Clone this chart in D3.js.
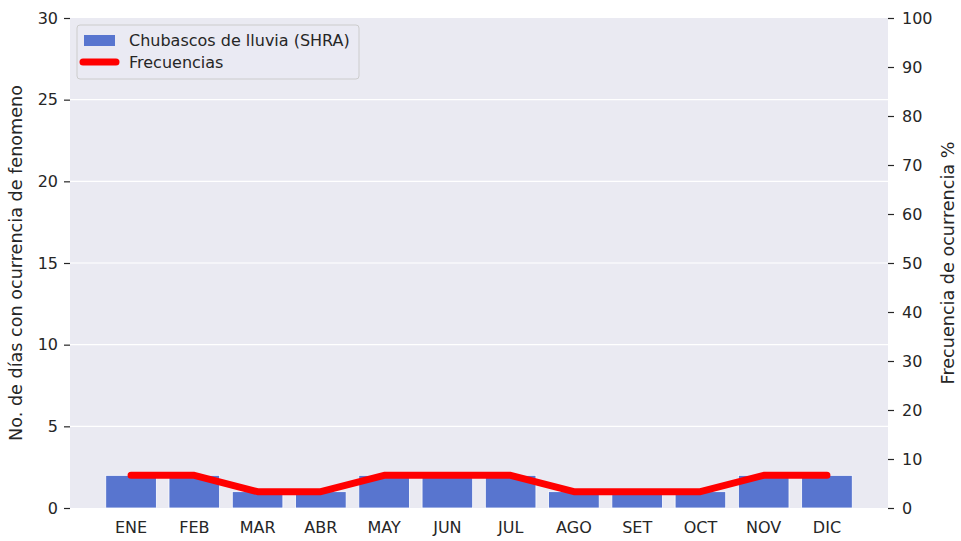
<!DOCTYPE html>
<html>
<head>
<meta charset="utf-8">
<script src="https://cdn.jsdelivr.net/npm/d3@7"></script>
<style>
body { margin: 0; background: #fff; }
text { font-family: "DejaVu Sans", sans-serif; fill: #262626; }
</style>
</head>
<body>
<svg id="chart" width="961" height="541"></svg>
<script>
const months = ['ENE', 'FEB', 'MAR', 'ABR', 'MAY', 'JUN', 'JUL', 'AGO', 'SET', 'OCT', 'NOV', 'DIC'];
const dias = [2, 2, 1, 1, 2, 2, 2, 1, 1, 1, 2, 2];
const frecuencias = [6.67, 6.67, 3.33, 3.33, 6.67, 6.67, 6.67, 3.33, 3.33, 3.33, 6.67, 6.67];
const leftTicks = [0, 5, 10, 15, 20, 25, 30];
const rightTicks = [0, 10, 20, 30, 40, 50, 60, 70, 80, 90, 100];

const margin = {top: 18, right: 73, bottom: 33, left: 70},
  width = 961 - margin.left - margin.right,
  height = 541 - margin.top - margin.bottom;

const svg = d3.select('#chart');
const chart = svg.append('g')
  .attr('transform', `translate(${margin.left}, ${margin.top})`);

const x = d3.scaleBand()
  .domain(months)
  .range([0, width])
  .paddingInner(0.2)
  .paddingOuter(0.565);

const y1 = d3.scaleLinear().domain([0, 30]).range([height, 0]);
const y2 = d3.scaleLinear().domain([0, 100]).range([height, 0]);

chart.append('rect')
  .attr('width', width)
  .attr('height', height)
  .attr('fill', '#eaeaf2');

// grid
chart.selectAll('.grid')
  .data(leftTicks.slice(1, -1))
  .enter().append('line')
  .attr('x1', 0)
  .attr('x2', width)
  .attr('y1', d => y1(d))
  .attr('y2', d => y1(d))
  .attr('stroke', '#fff')
  .attr('stroke-width', 1.2);

// bars
chart.selectAll('.bar')
  .data(dias)
  .enter().append('rect')
  .attr('x', (d, i) => x(months[i]))
  .attr('y', d => y1(d))
  .attr('width', x.bandwidth())
  .attr('height', d => height - y1(d))
  .attr('fill', '#5875cf')
  .attr('stroke', '#fff')
  .attr('stroke-width', 0.8);

// line
const line = d3.line()
  .x((d, i) => x(months[i]) + x.bandwidth() / 2)
  .y(d => y2(d));

chart.append('path')
  .datum(frecuencias)
  .attr('d', line)
  .attr('fill', 'none')
  .attr('stroke', '#ff0000')
  .attr('stroke-width', 7)
  .attr('stroke-linecap', 'round')
  .attr('stroke-linejoin', 'round');

// axes
const styleAxis = g => {
  g.select('.domain').remove();
  g.selectAll('.tick line').attr('stroke', '#262626').attr('stroke-width', 1.2);
  g.selectAll('.tick text').style('font-size', '16px').attr('fill', '#262626');
};

chart.append('g')
  .call(d3.axisLeft(y1).tickValues(leftTicks).tickSize(6).tickPadding(6))
  .call(styleAxis);

chart.append('g')
  .attr('transform', `translate(${width},0)`)
  .call(d3.axisRight(y2).tickValues(rightTicks).tickSize(6).tickPadding(8))
  .call(styleAxis);

chart.append('g')
  .attr('transform', `translate(0,${height})`)
  .call(d3.axisBottom(x).tickSize(0).tickPadding(14))
  .call(styleAxis);

chart.append('text')
  .attr('transform', `translate(${-48},${height / 2}) rotate(-90)`)
  .attr('text-anchor', 'middle')
  .style('font-size', '17.6px')
  .text('No. de días con ocurrencia de fenomeno');

chart.append('text')
  .attr('transform', `translate(${width + 66},${height / 2}) rotate(-90)`)
  .attr('text-anchor', 'middle')
  .style('font-size', '17.6px')
  .text('Frecuencia de ocurrencia %');

// legend
const legend = chart.append('g').attr('transform', 'translate(7,7)');
legend.append('rect')
  .attr('width', 282)
  .attr('height', 54)
  .attr('rx', 3)
  .attr('fill', '#eaeaf2')
  .attr('fill-opacity', 0.8)
  .attr('stroke', '#cccccc');

legend.append('rect')
  .attr('x', 7)
  .attr('y', 10)
  .attr('width', 31)
  .attr('height', 11)
  .attr('fill', '#5875cf');

legend.append('line')
  .attr('x1', 6)
  .attr('x2', 39)
  .attr('y1', 37)
  .attr('y2', 37)
  .attr('stroke', '#ff0000')
  .attr('stroke-width', 7)
  .attr('stroke-linecap', 'round');

legend.append('text')
  .attr('x', 52)
  .attr('y', 21)
  .style('font-size', '16px')
  .text('Chubascos de lluvia (SHRA)');

legend.append('text')
  .attr('x', 52)
  .attr('y', 43)
  .style('font-size', '16px')
  .text('Frecuencias');
</script>
</body>
</html>
